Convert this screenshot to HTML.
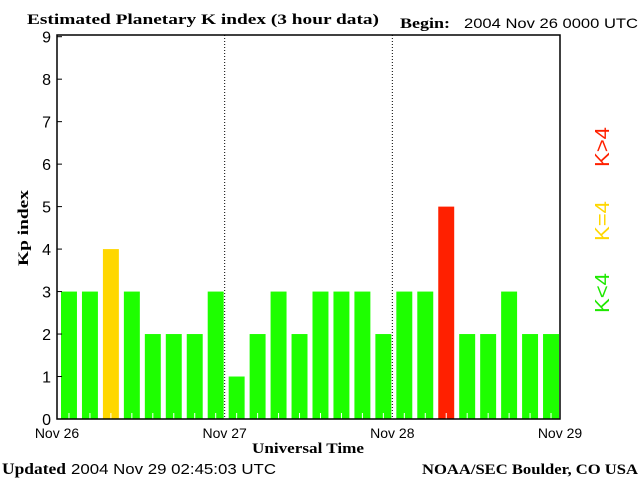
<!DOCTYPE html>
<html><head><meta charset="utf-8"><style>
body{margin:0;background:#fff;width:640px;height:480px;overflow:hidden}
text{font-family:"Liberation Sans",sans-serif}
.s{font-family:"Liberation Serif",serif;font-weight:bold}
</style></head><body>
<svg id="c" width="640" height="480" xmlns="http://www.w3.org/2000/svg">
<text class="s" x="27" y="24" font-size="15" textLength="352" lengthAdjust="spacingAndGlyphs">Estimated Planetary K index (3 hour data)</text>
<text class="s" x="400" y="28" font-size="15" textLength="50" lengthAdjust="spacingAndGlyphs">Begin:</text>
<text x="464" y="28" font-size="14" textLength="174" lengthAdjust="spacingAndGlyphs">2004 Nov 26 0000 UTC</text>
<text class="s" x="0" y="0" font-size="15" textLength="76" lengthAdjust="spacingAndGlyphs" transform="translate(28,266) rotate(-90)">Kp index</text>
<text class="s" x="252" y="453" font-size="15" textLength="112" lengthAdjust="spacingAndGlyphs">Universal Time</text>
<text class="s" x="2" y="474" font-size="16" textLength="64" lengthAdjust="spacingAndGlyphs">Updated</text>
<text x="71" y="474" font-size="15" textLength="205" lengthAdjust="spacingAndGlyphs">2004 Nov 29 02:45:03 UTC</text>
<text class="s" x="422" y="474" font-size="15" textLength="216" lengthAdjust="spacingAndGlyphs">NOAA/SEC Boulder, CO USA</text>
<text x="0" y="0" font-size="20" fill="#1ee800" textLength="40" lengthAdjust="spacingAndGlyphs" transform="translate(609,313) rotate(-90)">K&lt;4</text>
<text x="0" y="0" font-size="20" fill="#ffd700" textLength="40" lengthAdjust="spacingAndGlyphs" transform="translate(609,241) rotate(-90)">K=4</text>
<text x="0" y="0" font-size="20" fill="#ff2000" textLength="40" lengthAdjust="spacingAndGlyphs" transform="translate(609,167) rotate(-90)">K&gt;4</text>
<g id="plot"></g>
</svg>
<script>
const kpValues=[3,3,4,3,2,2,2,3,1,2,3,2,3,3,3,2,3,3,5,2,2,3,2,2];
const yTicks=[0,1,2,3,4,5,6,7,8,9];
const dayLabels=["Nov 26","Nov 27","Nov 28","Nov 29"];
const L=57,R=560,T=35,B=419,yMax=9.04;
const slot=(R-L)/kpValues.length;
const y=v=>B-(v/yMax)*(B-T);
const x=i=>L+i*slot;
const NS="http://www.w3.org/2000/svg";
const g=document.getElementById('plot');
function mk(t,a){const e=document.createElementNS(NS,t);for(const k in a)e.setAttribute(k,a[k]);g.appendChild(e);return e;}
kpValues.forEach((v,i)=>{
 const col=v<4?"#1eff00":(v==4?"#ffd700":"#ff2000");
 const r=mk('rect',{x:x(i)+4,y:y(v),width:slot-5,height:B-y(v),fill:col});
 
 
 const t=mk('line',{x1:x(i)+slot/2+1.5,x2:x(i)+slot/2+1.5,y1:B-6,y2:B,stroke:'#fff'});
 
 
});
for(let d=1;d<dayLabels.length-1;d++){
 const dl=mk('line',{x1:x(d*8),x2:x(d*8),y1:T,y2:B,stroke:'#000','stroke-dasharray':'1,2'});
 
 
}
const fr=mk('rect',{x:L,y:T,width:R-L,height:B-T,fill:'none',stroke:'#000','stroke-width':1.5});


yTicks.forEach(v=>{
 const tl=mk('line',{x1:L,x2:L+5,y1:y(v),y2:y(v),stroke:'#000'});
 
 
 const tt=mk('text',{x:L-6,y:y(v)+6,'font-size':16,'text-anchor':'end'});
 tt.textContent=v;
 
 
});
dayLabels.forEach((d,i)=>{
 const t=mk('text',{x:x(i*8),y:438,'font-size':14,'text-anchor':'middle'});
 t.textContent=d;
 
 
});
</script>
</body></html>
